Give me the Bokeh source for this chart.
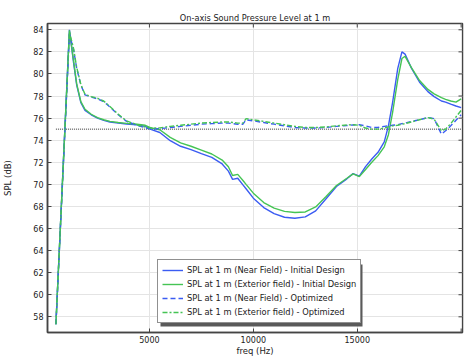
from bokeh.plotting import figure
from bokeh.models import Range1d, FixedTicker, Legend, LegendItem, ColumnDataSource, BoxAnnotation
from bokeh.embed import file_html
from bokeh.resources import INLINE
import math

freq = [500, 1150, 1350, 1500, 1700, 1900, 2200, 2500, 2800, 3100, 3500, 3900, 4400, 4800,
        5100, 5500, 6000, 6500, 7000, 7500, 8000, 8500, 8800, 9000, 9250, 9500, 9650, 10000,
        10500, 11000, 11500, 12000, 12500, 13000, 13500, 14000, 14500, 14800, 15100, 15400,
        15700, 16000, 16300, 16500, 16700, 16950, 17150, 17300, 17600, 18000, 18400, 18700,
        19050, 19250, 19500, 19750, 20000]

near_initial = [57.33, 84.0, 81.0, 79.0, 77.4, 76.7, 76.3, 76.0, 75.8, 75.65, 75.55, 75.47, 75.4, 75.25,
                74.95, 74.7, 73.95, 73.45, 73.15, 72.78, 72.45, 71.85, 71.2, 70.45, 70.55, 69.95, 69.6, 68.75,
                67.9, 67.35, 67.02, 66.93, 67.05, 67.6, 68.7, 69.8, 70.5, 70.97, 70.75, 71.6,
                72.3, 72.9, 73.85, 75.3, 77.4, 80.5, 82.0, 81.8, 80.55, 79.25, 78.4, 77.95,
                77.55, 77.45, 77.26, 77.1, 76.95]

exterior_initial = [57.33, 83.95, 81.2, 79.1, 77.5, 76.8, 76.35, 76.05, 75.85, 75.7, 75.6, 75.52, 75.45, 75.35,
                    75.1, 74.95, 74.25, 73.75, 73.45, 73.1, 72.75, 72.2, 71.6, 70.8, 70.9, 70.35, 70.0, 69.2,
                    68.35, 67.85, 67.55, 67.45, 67.5, 67.95, 68.9, 69.9, 70.55, 70.95, 70.7, 71.35,
                    72.0, 72.6, 73.4, 74.5, 76.5, 79.5, 81.4, 81.6, 80.6, 79.4, 78.6, 78.2,
                    77.85, 77.7, 77.55, 77.45, 77.75]

near_optimized = [57.33, 83.6, 82.2, 80.5, 79.0, 78.1, 77.9, 77.75, 77.5, 77.0, 76.3, 75.7, 75.35, 75.12,
                  75.0, 75.05, 75.15, 75.25, 75.35, 75.45, 75.5, 75.55, 75.55, 75.5, 75.45, 75.45, 75.85, 75.75,
                  75.6, 75.45, 75.3, 75.15, 75.1, 75.1, 75.15, 75.25, 75.33, 75.38, 75.4, 75.3,
                  75.15, 75.15, 75.25, 75.3, 75.35, 75.4, 75.5, 75.55, 75.7, 75.85, 76.05, 75.95,
                  74.55, 74.85, 75.3, 75.8, 76.3]

exterior_optimized = [57.33, 83.8, 82.3, 80.6, 79.05, 78.15, 77.95, 77.8, 77.55, 77.05, 76.35, 75.75, 75.4, 75.18,
                      75.1, 75.12, 75.25, 75.35, 75.45, 75.55, 75.6, 75.65, 75.65, 75.6, 75.55, 75.55, 75.95, 75.85,
                      75.7, 75.55, 75.4, 75.25, 75.15, 75.15, 75.2, 75.3, 75.38, 75.4, 75.35, 75.1,
                      75.0, 75.0, 75.1, 75.2, 75.3, 75.35, 75.45, 75.5, 75.65, 75.85, 76.05, 75.9,
                      74.85, 75.0, 75.5, 76.1, 76.7]

target_freq = [500, 20000]
target_spl = [75, 75]

x_ticks = [5000, 10000, 15000, 20000]
x_labeled_ticks = [5000, 10000, 15000]
y_ticks = list(range(58, 85, 2))

labels = ["SPL at 1 m (Near Field) - Initial Design",
          "SPL at 1 m (Exterior field) - Initial Design",
          "SPL at 1 m (Near Field) - Optimized",
          "SPL at 1 m (Exterior field) - Optimized"]

X_LO, X_HI = 95, 20065
Y_LO, Y_HI = 56.58, 84.57

BLUE = "#3b5cf2"
GREEN = "#45c454"
FONT = "DejaVu Sans"
TXT = "#222222"
AXC = "#444444"

p = figure(width=475, height=358, output_backend="svg", toolbar_location=None,
           x_range=Range1d(X_LO, X_HI), y_range=Range1d(Y_LO, Y_HI),
           title="On-axis Sound Pressure Level at 1 m",
           min_border_left=44, min_border_right=13, min_border_top=23, min_border_bottom=26)
p.title.text_font = FONT
p.title.text_font_size = "8.2px"
p.title.text_font_style = "normal"
p.title.text_color = TXT
p.title.align = "center"
p.title.standoff = 2
p.title.offset = 0

src = ColumnDataSource(dict(f=freq, a=near_initial, b=exterior_initial,
                            c=near_optimized, d=exterior_optimized))

p.line(target_freq, target_spl, color="#333333", line_width=1, line_dash="1 1")
r1 = p.line("f", "a", source=src, color=BLUE, line_width=1.4)
r2 = p.line("f", "b", source=src, color=GREEN, line_width=1.4)
r3 = p.line("f", "c", source=src, color=BLUE, line_width=1.4, line_dash="5 3")
r4 = p.line("f", "d", source=src, color=GREEN, line_width=1.4, line_dash="5 2 2 2")

# mirrored inward ticks on the top, right and the unlabeled bottom one
p.scatter(x_ticks, [Y_HI] * len(x_ticks), marker="dash", angle=math.pi / 2, size=8,
          line_color=AXC, line_width=1)
p.scatter([X_HI] * len(y_ticks), y_ticks, marker="dash", size=8, line_color=AXC, line_width=1)
p.scatter([20000], [Y_LO], marker="dash", angle=math.pi / 2, size=8, line_color=AXC, line_width=1)

LEG_X, LEG_Y, LEG_W, LEG_H = 110, 9, 202, 62
SH = 3
shadow = BoxAnnotation(left=LEG_X + SH, right=LEG_X + LEG_W + SH, bottom=LEG_Y - SH, top=LEG_Y + LEG_H - SH,
                       left_units="screen", right_units="screen", bottom_units="screen", top_units="screen",
                       fill_color="#5a5a5a", fill_alpha=1, line_color=None)
p.add_layout(shadow)

legend = Legend(items=[LegendItem(label=labels[0], renderers=[r1]),
                       LegendItem(label=labels[1], renderers=[r2]),
                       LegendItem(label=labels[2], renderers=[r3]),
                       LegendItem(label=labels[3], renderers=[r4])],
                location=(LEG_X, LEG_Y))
legend.label_text_font = FONT
legend.label_text_font_size = "8.3px"
legend.label_text_color = TXT
legend.label_height = 12
legend.glyph_height = 12
legend.glyph_width = 21
legend.label_standoff = 4
legend.spacing = 2
legend.padding = 4
legend.margin = 0
legend.border_line_color = "#222222"
legend.border_line_width = 1
legend.background_fill_alpha = 1
p.add_layout(legend, "center")

for ax in (p.xaxis[0], p.yaxis[0]):
    ax.major_label_text_font = FONT
    ax.major_label_text_font_size = "8px"
    ax.major_label_text_color = TXT
    ax.axis_label_text_font = FONT
    ax.axis_label_text_font_size = "8.5px"
    ax.axis_label_text_font_style = "normal"
    ax.axis_label_text_color = TXT
    ax.major_tick_in = 4
    ax.major_tick_out = 0
    ax.minor_tick_in = 0
    ax.minor_tick_out = 0
    ax.axis_line_color = AXC
    ax.axis_line_width = 1.5
    ax.major_tick_line_color = AXC

p.xaxis[0].ticker = FixedTicker(ticks=x_labeled_ticks)
p.xaxis[0].axis_label = "freq (Hz)"
p.xaxis[0].major_label_standoff = 3
p.xaxis[0].axis_label_standoff = 0
p.yaxis[0].ticker = FixedTicker(ticks=y_ticks)
p.yaxis[0].axis_label = "SPL (dB)"
p.yaxis[0].major_label_standoff = 4
p.yaxis[0].axis_label_standoff = 17

p.xgrid.ticker = FixedTicker(ticks=x_ticks)
p.ygrid.ticker = FixedTicker(ticks=y_ticks)
p.grid.grid_line_color = "#e4e4e4"
p.grid.grid_line_width = 1
p.outline_line_color = AXC
p.outline_line_width = 1.5

open("out.html", "w").write(file_html(p, INLINE))
